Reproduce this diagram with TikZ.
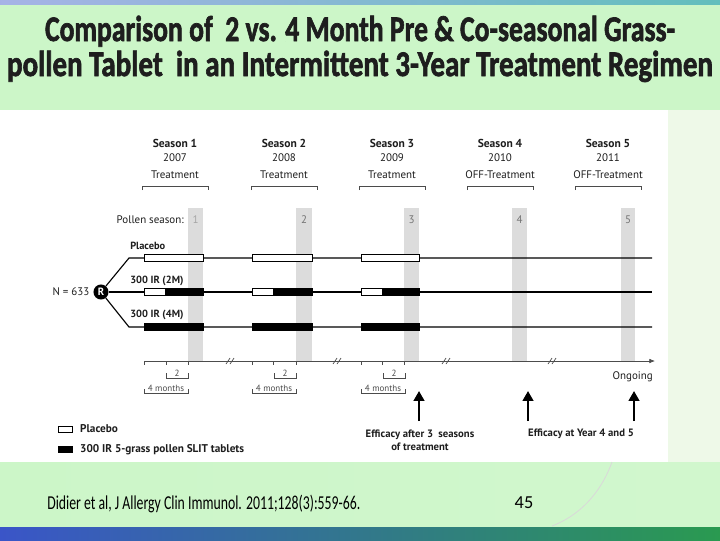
\documentclass[tikz,border=0pt]{standalone}
\usepackage{fontspec}
\setmainfont{Carlito}
\newfontfamily\figfont{PT Sans}
\newfontfamily\titlefont[FakeBold=2]{Carlito Bold}
\usetikzlibrary{arrows.meta, positioning, calc}

\definecolor{titlegreen}{HTML}{CCF6C8}
\definecolor{palegreen}{HTML}{EEF9E8}
\definecolor{pollengray}{HTML}{DCDCDC}
\definecolor{bandblue}{HTML}{3A55C8}
\definecolor{bandteal}{HTML}{1FA3A0}
\definecolor{bandgreen}{HTML}{2A9A50}
\definecolor{inkgray}{HTML}{1E1E1E}

\begin{document}
\begin{tikzpicture}[x=0.025cm, y=-0.025cm,
    seasonhead/.style={font=\figfont\bfseries\fontsize{8.2}{9}\selectfont, text=inkgray, inner sep=0pt},
    seasontext/.style={font=\figfont\fontsize{7.8}{9}\selectfont, text=inkgray, inner sep=0pt},
    armlabel/.style={font=\figfont\bfseries\fontsize{7.4}{9}\selectfont, text=inkgray, anchor=west, inner sep=0pt},
    smalltext/.style={font=\figfont\fontsize{6.4}{7}\selectfont, text=inkgray!80, inner sep=0.6pt},
    efflabel/.style={font=\figfont\bfseries\fontsize{7.6}{9.2}\selectfont, text=inkgray, align=center, inner sep=0pt},
    armline/.style={line width=0.8pt, black},
    studybar/.style={draw=black, line width=0.5pt},
    bracketline/.style={line width=0.45pt, inkgray!80},
    axisline/.style={line width=0.5pt, gray!60!black},
    effarrow/.style={line width=1.6pt, black, -{Triangle[width=7.5pt, length=7pt]}},
    legendbox/.style={draw=black, line width=0.5pt, minimum width=10pt, minimum height=4.3pt, inner sep=0pt}]

    % Slide background
    \fill[white] (0,0) rectangle (720,540);
    \shade[left color=bandblue!45, middle color=bandblue!80, right color=bandteal!70] (0,0) rectangle (720,5);
    \fill[titlegreen] (0,5) rectangle (720,110);
    \fill[palegreen] (668,110) rectangle (720,462);
    \shade[left color=titlegreen, middle color=palegreen!60, right color=titlegreen!90] (0,462) rectangle (720,527);
    \shade[left color=bandblue, middle color=bandteal, right color=bandgreen] (0,527) rectangle (720,540);
    \fill[white] (37,110) rectangle (668,462);
    \draw[gray!30, line width=0.6pt] (612,462) .. controls (600,495) and (578,516) .. (552,526);

    % Title
    \node[anchor=base, text=inkgray, inner sep=0pt] (title1) at (360,41)
        {\resizebox{448pt}{18pt}{\titlefont Comparison of\ \ 2 vs. 4 Month Pre \& Co-seasonal Grass-}};
    \node[anchor=base, text=inkgray, inner sep=0pt] (title2) at (360,76)
        {\resizebox{502pt}{18pt}{\titlefont pollen Tablet\ \ in an Intermittent 3-Year Treatment Regimen}};

    % Pollen seasons
    \fill[pollengray] (188,208) rectangle (203,361);
    \fill[pollengray] (296,208) rectangle (312,361);
    \fill[pollengray] (404,208) rectangle (419,361);
    \fill[pollengray] (512,208) rectangle (527,361);
    \fill[pollengray] (621,208) rectangle (635,361);
    \node[seasontext, anchor=east] (pollen) at (184,220) {Pollen season:};
    \node[seasontext, text=gray!70] (p1) at (195.5,220) {1};
    \node[seasontext, text=gray!90!black] (p2) at (304,220) {2};
    \node[seasontext, text=gray!90!black] (p3) at (411.5,220) {3};
    \node[seasontext, text=gray!90!black] (p4) at (519.5,220) {4};
    \node[seasontext, text=gray!90!black] (p5) at (628,220) {5};

    % Season headers
    \foreach \x/\n/\yr/\tr in {175/1/2007/Treatment, 284/2/2008/Treatment, 392/3/2009/Treatment,
                               500/4/2010/OFF-Treatment, 608/5/2011/OFF-Treatment} {
        \node[seasonhead] (season\n) at (\x,143) {Season \n};
        \node[seasontext] (year\n) at (\x,158) {\yr};
        \node[seasontext] (phase\n) at (\x,175) {\tr};
        \draw[bracketline] (\x-33,190) -- (\x-33,186) -- (\x+33,186) -- (\x+33,190);
    }

    % Randomisation and arms
    \node[circle, fill=black, text=white, font=\figfont\bfseries\fontsize{7.5}{8}\selectfont,
          minimum size=10.7pt, inner sep=0pt] (R) at (101,292) {R};
    \node[seasontext, left=2.5pt of R] (N) {N = 633};
    \coordinate (plturn) at (129,258);
    \coordinate (plend) at (652,258);
    \coordinate (twoend) at (652,292);
    \coordinate (fourturn) at (129,327);
    \coordinate (fourend) at (652,327);
    \draw[armline] (R) -- (plturn) -- (plend);
    \draw[armline] (R) -- (twoend);
    \draw[armline] (R) -- (fourturn) -- (fourend);
    \node[armlabel] (placebo) at (130,246) {Placebo};
    \node[armlabel] (twomonth) at (130,281) {300 IR (2M)};
    \node[armlabel] (fourmonth) at (130,315) {300 IR (4M)};

    % Placebo bars
    \draw[studybar, fill=white] (144,254.5) rectangle (203,261.5);
    \draw[studybar, fill=white] (252,254.5) rectangle (312,261.5);
    \draw[studybar, fill=white] (361,254.5) rectangle (419,261.5);

    % 2 month bars
    \draw[studybar, fill=white] (144,288.5) rectangle (165,295.5);
    \draw[studybar, fill=black] (165,288.5) rectangle (203,295.5);
    \draw[studybar, fill=white] (252,288.5) rectangle (273,295.5);
    \draw[studybar, fill=black] (273,288.5) rectangle (312,295.5);
    \draw[studybar, fill=white] (361,288.5) rectangle (382,295.5);
    \draw[studybar, fill=black] (382,288.5) rectangle (419,295.5);

    % 4 month bars
    \draw[studybar, fill=black] (144,323.5) rectangle (203,330.5);
    \draw[studybar, fill=black] (252,323.5) rectangle (312,330.5);
    \draw[studybar, fill=black] (361,323.5) rectangle (419,330.5);

    % Time axis
    \coordinate (axstart) at (144,361);
    \coordinate (axend) at (655,361);
    \draw[axisline, -{Latex[length=4pt, width=3.2pt]}] (axstart) -- (axend);
    \foreach \x in {144,166,188,252,273,296,361,382,404}
        \draw[axisline] (\x,361) -- (\x,365);
    \foreach \x in {231,338,447,553} {
        \draw[axisline] (\x-5,364) -- (\x-1,358);
        \draw[axisline] (\x-1,364) -- (\x+3,358);
    }
    \foreach \a/\n in {144/1,252/2,361/3} {
        \draw[bracketline] (\a+22,373) -- (\a+22,378) -- (\a+44,378) -- (\a+44,373);
        \node[smalltext, anchor=south] (two\n) at (\a+33,377.5) {2};
        \draw[bracketline] (\a,389) -- (\a,393) -- (\a+44,393) -- (\a+44,389);
        \node[smalltext, anchor=south] (four\n) at (\a+22,393) {4 months};
    }
    \node[seasontext, anchor=east] (ongoing) at (653,377) {Ongoing};

    % Efficacy arrows
    \node[efflabel] (eff3) at (420,440.5) {Efficacy after 3\ \ seasons\\of treatment};
    \node[efflabel] (eff45) at (581,434) {Efficacy at Year 4 and 5};
    \coordinate (a3) at (419,421);
    \coordinate (t3) at (419,391);
    \coordinate (a4) at (528,421);
    \coordinate (t4) at (528,391);
    \coordinate (a5) at (634,421);
    \coordinate (t5) at (634,391);
    \draw[effarrow] (a3) -- (t3);
    \draw[effarrow] (a4) -- (t4);
    \draw[effarrow] (a5) -- (t5);

    % Legend
    \node[legendbox, fill=white] (legwhite) at (65.5,429) {};
    \node[armlabel, font=\figfont\bfseries\fontsize{8}{9}\selectfont, right=5pt of legwhite] (legplacebo) {Placebo};
    \node[legendbox, fill=black] (legblack) at (65.5,449.5) {};
    \node[armlabel, font=\figfont\bfseries\fontsize{8}{9}\selectfont, right=5pt of legblack] (legtablet) {300 IR 5-grass pollen SLIT tablets};

    % Reference and slide number
    \node[anchor=west, inner sep=0pt] (cite) at (47,504)
        {\scalebox{0.7}[1]{\fontsize{14}{16}\selectfont Didier et al, J Allergy Clin Immunol. 2011;128(3):559-66.}};
    \node[inner sep=0pt] (slideno) at (524,503) {\fontsize{13}{15}\selectfont 45};
\end{tikzpicture}
\end{document}
